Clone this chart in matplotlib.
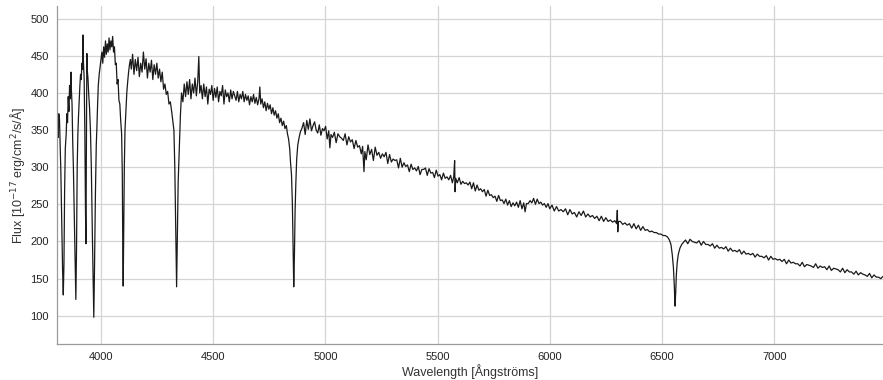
import numpy as np
import matplotlib

matplotlib.use("Agg")
import matplotlib.pyplot as plt

plt.rcParams["font.family"] = ["Liberation Sans", "DejaVu Sans"]

# values, split by region
wave_blue = [3806, 3809, 3812, 3815, 3818, 3821, 3825, 3829, 3832, 3835, 3838, 3841, 3845, 3848,
             3851, 3854, 3857, 3860, 3863, 3866, 3868, 3871, 3874, 3877, 3880, 3884, 3888, 3891,
             3894, 3897, 3900, 3903, 3906, 3909, 3912, 3915, 3918, 3920, 3922, 3925, 3928, 3931,
             3933, 3935, 3937, 3939, 3942, 3945, 3949, 3953, 3957, 3961, 3965, 3968, 3971, 3975,
             3979, 3982, 3985, 3988, 3992, 3996, 4000, 4004, 4008, 4012, 4016, 4020, 4024, 4028,
             4032, 4036, 4040, 4044, 4048, 4052, 4056, 4060, 4064, 4068, 4072, 4076, 4080, 4084,
             4088, 4092, 4095, 4097, 4099, 4101, 4104, 4107, 4111, 4115, 4119, 4123, 4127, 4131]
flux_blue = [355, 340, 372, 365, 330, 296, 230, 160, 128, 170, 270, 325, 345, 372,
             360, 395, 375, 410, 392, 428, 405, 385, 335, 300, 250, 180, 122, 190,
             300, 345, 370, 390, 410, 425, 418, 440, 432, 478, 440, 420, 350, 240,
             197, 320, 453, 430, 420, 400, 380, 350, 300, 220, 150, 98, 160, 260,
             330, 355, 385, 410, 425, 435, 445, 455, 440, 462, 448, 470, 452, 466,
             455, 474, 458, 470, 462, 476, 455, 462, 438, 440, 412, 418, 390, 385,
             362, 345, 290, 200, 140, 200, 300, 350, 375, 400, 415, 428, 438, 445]

wave_mid = [4135, 4141, 4147, 4153, 4159, 4165, 4171, 4177, 4183, 4189, 4195, 4201, 4207, 4213,
            4219, 4225, 4231, 4237, 4243, 4249, 4255, 4261, 4267, 4273, 4279, 4285, 4291, 4297,
            4303, 4309, 4315, 4320, 4325, 4329, 4333, 4337, 4340, 4344, 4349, 4354, 4359, 4365,
            4371, 4377, 4383, 4389, 4395, 4401, 4407, 4413, 4419, 4425, 4431, 4436, 4440, 4446,
            4452, 4458, 4464, 4470, 4476, 4482, 4488, 4494, 4500, 4506, 4512, 4518, 4524, 4530,
            4536, 4542, 4548, 4554, 4560, 4566, 4572, 4578, 4584, 4590, 4596, 4602, 4608, 4614,
            4620, 4626, 4632, 4638, 4644, 4650, 4656, 4662, 4668, 4674, 4680, 4686, 4692, 4698,
            4704, 4708, 4712, 4718, 4724, 4730, 4736, 4742, 4748, 4754, 4760, 4766, 4772, 4778,
            4784, 4790, 4796, 4802, 4808, 4814, 4820, 4826, 4831, 4836, 4841, 4845, 4849, 4853,
            4856, 4859, 4862, 4865, 4868, 4872, 4877, 4883, 4889]
flux_mid = [432, 452, 425, 445, 430, 448, 422, 440, 428, 455, 432, 446, 420, 440,
            428, 444, 418, 438, 425, 440, 420, 432, 415, 428, 405, 412, 398, 402,
            385, 388, 375, 362, 350, 300, 220, 139, 200, 280, 323, 370, 400, 388,
            412, 395, 415, 398, 418, 392, 412, 400, 420, 396, 415, 449, 400, 410,
            392, 412, 395, 408, 385, 405, 398, 410, 390, 406, 394, 408, 388, 402,
            396, 410, 385, 404, 395, 400, 388, 404, 392, 402, 396, 390, 402, 388,
            398, 392, 402, 388, 398, 390, 396, 384, 395, 388, 398, 386, 394, 384,
            392, 408, 385, 392, 380, 388, 376, 386, 378, 384, 372, 380, 370, 376,
            366, 372, 360, 366, 356, 362, 352, 356, 345, 338, 325, 305, 290, 250,
            190, 139, 180, 240, 275, 310, 330, 340, 348]

wave_green = [4895, 4903, 4910, 4917, 4924, 4931, 4938, 4945, 4952, 4959, 4966, 4973, 4980, 4987,
              4994, 5001, 5008, 5015, 5020, 5025, 5032, 5040, 5048, 5056, 5064, 5072, 5080, 5088,
              5096, 5104, 5112, 5120, 5128, 5136, 5144, 5152, 5160, 5166, 5172, 5176, 5182, 5190,
              5198, 5206, 5214, 5222, 5230, 5238, 5246, 5254, 5262, 5270, 5278, 5286, 5294, 5302,
              5310, 5318, 5326, 5334, 5342, 5350, 5358, 5366, 5374, 5382, 5390, 5398, 5406, 5414,
              5422, 5430, 5438, 5446, 5454, 5462, 5470, 5478, 5486, 5494, 5502, 5510, 5518, 5526,
              5534, 5542, 5550, 5558, 5566, 5572, 5576, 5578, 5581, 5588, 5596, 5604, 5612, 5620,
              5628, 5636, 5644, 5652, 5660, 5668, 5676, 5684, 5692, 5700, 5708, 5716, 5724, 5732,
              5740, 5748, 5756, 5764, 5772, 5780, 5788, 5796, 5804, 5812, 5820, 5828, 5836, 5844,
              5852, 5860, 5868, 5876, 5884, 5890, 5896, 5904, 5912, 5920, 5928, 5936, 5944, 5952,
              5960, 5968, 5976, 5984, 5992]
flux_green = [352, 360, 344, 363, 351, 365, 349, 356, 361, 350, 346, 357, 343, 352,
              349, 355, 338, 349, 326, 344, 340, 347, 333, 345, 341, 339, 336, 345,
              330, 341, 334, 337, 325, 336, 327, 329, 318, 328, 294, 321, 310, 330,
              317, 324, 309, 327, 316, 320, 312, 318, 314, 320, 305, 317, 307, 311,
              309, 310, 299, 312, 300, 306, 301, 303, 294, 304, 297, 299, 295, 301,
              290, 297, 297, 299, 289, 298, 292, 293, 286, 296, 288, 290, 283, 292,
              285, 287, 283, 289, 279, 287, 309, 267, 285, 279, 286, 277, 281, 278,
              279, 276, 280, 271, 279, 268, 276, 269, 271, 267, 270, 261, 269, 262,
              263, 259, 261, 254, 262, 255, 256, 251, 257, 249, 255, 247, 252, 248,
              253, 246, 255, 244, 252, 240, 251, 251, 255, 252, 258, 250, 257, 251,
              253, 249, 251, 246, 251]

wave_red = [6000, 6010, 6020, 6030, 6040, 6050, 6060, 6070, 6080, 6090, 6100, 6110, 6120, 6130,
            6140, 6150, 6160, 6170, 6180, 6190, 6200, 6210, 6220, 6230, 6240, 6250, 6260, 6270,
            6280, 6290, 6298, 6301, 6303, 6306, 6315, 6325, 6335, 6345, 6355, 6365, 6375, 6385,
            6395, 6405, 6415, 6425, 6435, 6445, 6455, 6465, 6475, 6485, 6495, 6505, 6515, 6525,
            6533, 6540, 6546, 6551, 6555, 6558, 6561, 6564, 6568, 6573, 6580, 6588]
flux_red = [244, 249, 241, 247, 241, 243, 240, 244, 236, 243, 237, 239, 233, 240,
            235, 241, 233, 237, 233, 235, 231, 234, 228, 234, 227, 232, 227, 229,
            226, 228, 224, 242, 213, 227, 227, 223, 225, 222, 224, 218, 224, 217,
            222, 215, 220, 215, 216, 213, 214, 212, 212, 210, 210, 208, 208, 206,
            202, 196, 182, 165, 140, 113, 130, 155, 172, 183, 191, 196]

wave_ir = [6596, 6605, 6615, 6625, 6635, 6645, 6655, 6665, 6675, 6685, 6695, 6705, 6715, 6725,
           6735, 6745, 6755, 6765, 6775, 6785, 6795, 6805, 6815, 6825, 6835, 6845, 6855, 6865,
           6875, 6885, 6895, 6905, 6915, 6925, 6935, 6945, 6955, 6965, 6975, 6985, 6995, 7005,
           7015, 7025, 7035, 7045, 7055, 7065, 7075, 7085, 7095, 7105, 7115, 7125, 7135, 7145,
           7155, 7165, 7175, 7185, 7195, 7205, 7215, 7225, 7235, 7245, 7255, 7265, 7275, 7285,
           7295, 7305, 7315, 7325, 7335, 7345, 7355, 7365, 7375, 7385, 7395, 7405, 7415, 7425,
           7435, 7445, 7455, 7465, 7475, 7485]
flux_ir = [199, 202, 197, 203, 200, 199, 198, 201, 195, 200, 196, 196, 194, 197,
           191, 195, 191, 192, 190, 193, 187, 191, 187, 188, 186, 189, 183, 187,
           183, 184, 182, 184, 179, 183, 180, 180, 178, 181, 175, 180, 176, 177,
           175, 176, 173, 176, 170, 175, 171, 172, 170, 170, 167, 172, 166, 169,
           168, 167, 165, 170, 164, 167, 165, 166, 162, 167, 161, 164, 163, 162,
           159, 164, 158, 162, 159, 159, 156, 160, 155, 158, 156, 155, 153, 157,
           151, 155, 152, 152, 150, 153]

wavelength = np.array(wave_blue + wave_mid + wave_green + wave_red + wave_ir)
flux = np.array(flux_blue + flux_mid + flux_green + flux_red + flux_ir)

x_ticks = [4000, 4500, 5000, 5500, 6000, 6500, 7000]
y_ticks = [100, 150, 200, 250, 300, 350, 400, 450, 500]

fig = plt.figure(figsize=(8.83, 3.8), dpi=100)
ax = fig.add_axes([57 / 883, 36 / 380, 1 - 57 / 883, 338 / 380])

ax.plot(wavelength, flux, color="#1a1a1a", linewidth=0.9)

ax.set_xlim(3804, 7485)
ax.set_ylim(62, 517)
ax.set_xticks(x_ticks)
ax.set_yticks(y_ticks)
ax.grid(True, color="#d4d4d4", linewidth=0.9)
ax.set_axisbelow(True)
ax.tick_params(length=0, labelsize=8, colors="#222222", pad=6)

for side in ["top", "right"]:
    ax.spines[side].set_visible(False)
for side in ["left", "bottom"]:
    ax.spines[side].set_color("#9a9a9a")
    ax.spines[side].set_linewidth(0.9)

ax.set_xlabel("Wavelength [Ångströms]", fontsize=9, color="#333333", labelpad=1)
ax.set_ylabel("Flux [10$^{-17}$ erg/cm$^2$/s/Å]", fontsize=9, color="#333333", labelpad=2)

fig.savefig("out.png", dpi=100)
